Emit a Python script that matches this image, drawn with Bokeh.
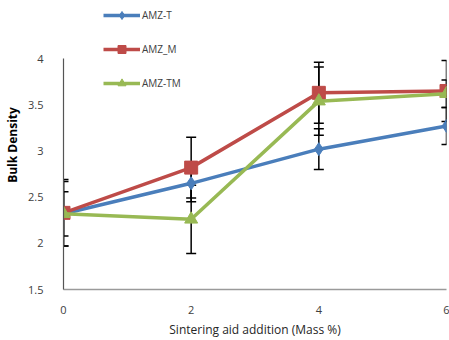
from bokeh.plotting import figure
from bokeh.models import (ColumnDataSource, Whisker, TeeHead, Legend, LegendItem,
                          FixedTicker, Range1d)
from bokeh.embed import file_html
from bokeh.resources import INLINE

mass = [0, 2, 4, 6]
amz_t = [2.32, 2.65, 3.02, 3.27]
amz_m = [2.33, 2.82, 3.63, 3.65]
amz_tm = [2.32, 2.26, 3.54, 3.62]
err_t = [0.35, 0.20, 0.22, 0.20]
err_m = [0.36, 0.33, 0.33, 0.33]
err_tm = [0.24, 0.37, 0.37, 0.15]

names = ["AMZ-T", "AMZ_M", "AMZ-TM"]
series = [amz_t, amz_m, amz_tm]
errs = [err_t, err_m, err_tm]
colors = ["#4a7ebb", "#be4b48", "#98b954"]
markers = ["diamond", "square", "triangle"]
sizes = [13, 13, 13]

FONT = "Open Sans"

p = figure(width=449, height=340, output_backend="svg", toolbar_location=None,
           x_range=Range1d(0, 6.0), y_range=Range1d(1.5, 4.63),
           min_border_left=63, min_border_right=3, min_border_top=0,
           min_border_bottom=46)
p.outline_line_color = None
p.xgrid.visible = False
p.ygrid.visible = False
p.background_fill_color = "white"
p.border_fill_color = "white"

# axes
p.xaxis.ticker = FixedTicker(ticks=[0, 2, 4, 6])
p.yaxis.ticker = FixedTicker(ticks=[1.5, 2, 2.5, 3, 3.5, 4])
p.yaxis.major_label_overrides = {2: "2", 3: "3", 4: "4"}
p.yaxis.bounds = (1.5, 4)
for ax in (p.xaxis[0], p.yaxis[0]):
    ax.major_tick_line_color = None
    ax.minor_tick_line_color = None
    ax.major_label_text_font = FONT
    ax.major_label_text_font_size = "11px"
    ax.major_label_text_color = "#404040"
    ax.axis_label_text_font = FONT
    ax.axis_label_text_color = "#262626"
p.xaxis.axis_line_color = "#9a9a9a"
p.xaxis.axis_line_width = 1.5
p.yaxis.axis_line_color = "#555555"
p.yaxis.axis_line_width = 1.2
p.xaxis.major_label_standoff = 10
p.yaxis.major_label_standoff = 14
p.xaxis.axis_label = "Sintering aid addition (Mass %)"
p.xaxis.axis_label_text_font_size = "12px"
p.xaxis.axis_label_text_font_style = "normal"
p.xaxis.axis_label_standoff = 4
p.yaxis.axis_label = "Bulk Density"
p.yaxis.axis_label_text_font_size = "12px"
p.yaxis.axis_label_text_font_style = "bold"
p.yaxis.axis_label_text_color = "#000000"
p.yaxis.axis_label_standoff = 4

# error bars
for ys, es in zip(series, errs):
    src = ColumnDataSource(dict(x=mass,
                                lo=[y - e for y, e in zip(ys, es)],
                                hi=[y + e for y, e in zip(ys, es)]))
    w = Whisker(source=src, base="x", lower="lo", upper="hi",
                line_color="black", line_width=1.5,
                upper_head=TeeHead(size=10, line_color="black", line_width=1.5),
                lower_head=TeeHead(size=10, line_color="black", line_width=1.5))
    p.add_layout(w)

items = []
for name, ys, c, m, s in zip(names, series, colors, markers, sizes):
    ln = p.line(mass, ys, line_color=c, line_width=3.5)
    sc = p.scatter(mass, ys, marker=m, size=s, fill_color=c, line_color=c)
    items.append(LegendItem(label=name, renderers=[ln, sc]))

leg = Legend(items=items, location=(40, 196), padding=5, margin=0,
             glyph_width=37, glyph_height=20, label_height=20, spacing=14,
             label_text_font=FONT, label_text_font_size="10px",
             label_text_color="#404040", label_standoff=2,
             background_fill_alpha=0, border_line_color=None)
p.add_layout(leg, "center")

open("out.html", "w").write(file_html(p, INLINE))
